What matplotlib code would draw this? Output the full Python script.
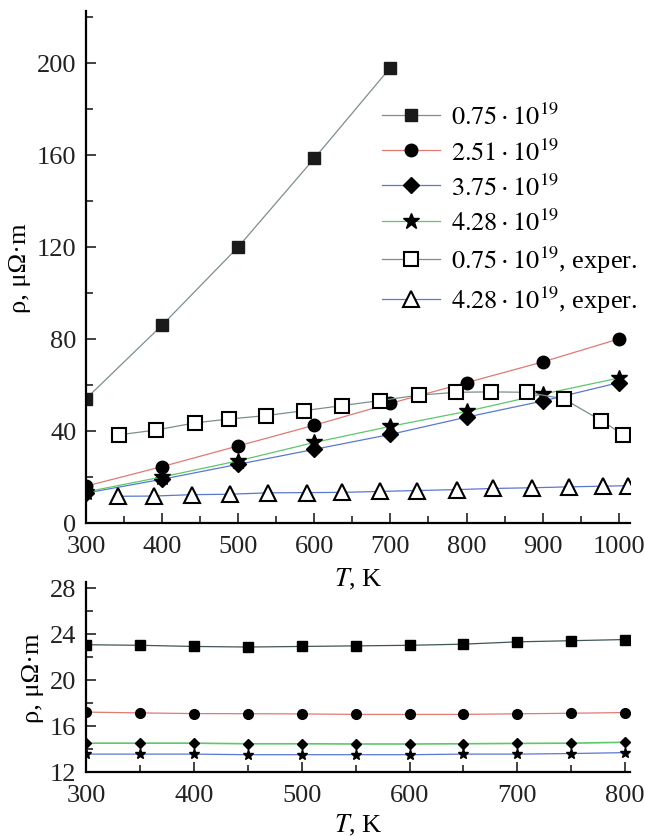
import matplotlib
matplotlib.use("Agg")
import matplotlib.pyplot as plt
from matplotlib.ticker import MultipleLocator

plt.rcParams['font.family'] = ['Liberation Serif', 'DejaVu Serif']
plt.rcParams['mathtext.fontset'] = 'stix'

# top panel: calculated curves
T_calc = [300, 400, 500, 600, 700, 800, 900, 1000]
rho_075 = [54, 86, 120, 158.5, 198]
rho_251 = [16, 24.5, 33.5, 42.5, 52, 61, 70, 80]
rho_375 = [13, 19, 25.5, 32, 38.5, 46, 53, 61]
rho_428 = [13.5, 20, 27, 35, 42, 48.5, 56, 63]

# top panel: experiment
T_exp_075 = [343, 392, 443, 488, 537, 586, 636, 686, 738, 786, 832, 880, 928, 977, 1006]
rho_exp_075 = [38.3, 40.4, 43.5, 45.2, 46.7, 48.8, 51, 53.2, 55.6, 56.8, 57, 56.8, 53.9, 44.5, 38.4]
T_exp_428 = [342, 389, 439, 489, 539, 591, 637, 686, 735, 787, 835, 886, 935, 979, 1012]
rho_exp_428 = [11.6, 11.7, 12.3, 12.5, 13.1, 13.2, 13.3, 13.7, 14.1, 14.5, 15.0, 15.3, 15.7, 16.0, 16.2]

# bottom panel
T_low = [300, 350, 400, 450, 500, 550, 600, 650, 700, 750, 800]
low_075 = [23.05, 23.0, 22.9, 22.85, 22.9, 22.95, 23.0, 23.1, 23.3, 23.4, 23.5]
low_251 = [17.2, 17.13, 17.07, 17.06, 17.04, 17.0, 17.0, 17.0, 17.05, 17.1, 17.16]
low_375 = [14.5, 14.5, 14.5, 14.45, 14.45, 14.43, 14.43, 14.45, 14.48, 14.5, 14.58]
low_428 = [13.55, 13.55, 13.55, 13.5, 13.5, 13.5, 13.5, 13.55, 13.55, 13.6, 13.68]

labels = [r'$0.75\cdot10^{19}$', r'$2.51\cdot10^{19}$', r'$3.75\cdot10^{19}$',
          r'$4.28\cdot10^{19}$', r'$0.75\cdot10^{19}$, exper.', r'$4.28\cdot10^{19}$, exper.']

c_gray = '#7d8e8e'
c_red = '#e07a72'
c_blue = '#5a78d0'
c_green = '#5cc86a'
c_dark = '#3f5656'

fig = plt.figure(figsize=(6.45, 8.37), dpi=100)
ax2 = fig.add_axes([0.1333, 0.0765, 0.8437, 0.227])
ax1 = fig.add_axes([0.1333, 0.374, 0.8437, 0.6117])
ax2.set_facecolor('none')
ax1.set_facecolor('none')

lw = 0.9
ax1.plot(T_calc[:5], rho_075, color=c_gray, lw=lw, marker='s', ms=8.5, mfc='#1a1a1a', mec='#1a1a1a', label=labels[0])
ax1.plot(T_calc, rho_251, color=c_red, lw=lw, marker='o', ms=9, mfc='black', mec='black', label=labels[1])
ax1.plot(T_calc, rho_375, color=c_blue, lw=lw, marker='D', ms=8, mfc='black', mec='black', label=labels[2])
ax1.plot(T_calc, rho_428, color=c_green, lw=lw, marker='*', ms=12, mfc='black', mec='black', label=labels[3])
ax1.plot(T_exp_075, rho_exp_075, color=c_gray, lw=lw, marker='s', ms=10.5, mfc='white', mec='black', mew=1.5, label=labels[4])
ax1.plot(T_exp_428, rho_exp_428, color=c_blue, lw=lw, marker='^', ms=11, mfc='white', mec='black', mew=1.5, label=labels[5])

ax1.set_xlim(300, 1015)
ax1.set_ylim(0, 222.6)
ax1.xaxis.set_major_locator(MultipleLocator(100))
ax1.xaxis.set_minor_locator(MultipleLocator(50))
ax1.yaxis.set_major_locator(MultipleLocator(40))
ax1.yaxis.set_minor_locator(MultipleLocator(20))
ax1.set_xlabel(r'$T$, K', fontsize=19, labelpad=6)
ax1.set_ylabel('ρ, μΩ·m', fontsize=19, labelpad=4)
ax1.legend(loc='upper left', bbox_to_anchor=(0.544, 0.82), frameon=False, fontsize=19,
           borderaxespad=0, borderpad=0, handlelength=2.2, handletextpad=0.4, labelspacing=0.34)

ms2 = 6.5
ax2.plot(T_low, low_075, color=c_dark, lw=lw, marker='s', ms=ms2, mfc='black', mec='black')
ax2.plot(T_low, low_251, color=c_red, lw=lw, marker='o', ms=ms2 + 0.5, mfc='black', mec='black')
ax2.plot(T_low, low_375, color=c_green, lw=1.2, marker='D', ms=ms2 - 1.5, mfc='black', mec='black')
ax2.plot(T_low, low_428, color=c_blue, lw=lw, marker='*', ms=ms2 + 1.5, mfc='black', mec='black')

ax2.set_xlim(300, 804.6)
ax2.set_ylim(12, 28.5)
ax2.xaxis.set_major_locator(MultipleLocator(100))
ax2.xaxis.set_minor_locator(MultipleLocator(50))
ax2.yaxis.set_major_locator(MultipleLocator(4))
ax2.yaxis.set_minor_locator(MultipleLocator(2))
ax2.set_xlabel(r'$T$, K', fontsize=19, labelpad=4)
ax2.set_ylabel('ρ, μΩ·m', fontsize=19, labelpad=4)

for ax in (ax1, ax2):
    ax.spines['top'].set_visible(False)
    ax.spines['right'].set_visible(False)
    ax.spines['left'].set_linewidth(1.6)
    ax.spines['bottom'].set_linewidth(1.6)
    ax.tick_params(which='both', direction='in', width=1.2, labelsize=19, colors='#222222')
    ax.tick_params(axis='x', pad=9)
    ax.tick_params(axis='y', pad=7)
    ax.tick_params(which='major', length=7)
    ax.tick_params(which='minor', length=5)

fig.savefig('out.png', dpi=100)
